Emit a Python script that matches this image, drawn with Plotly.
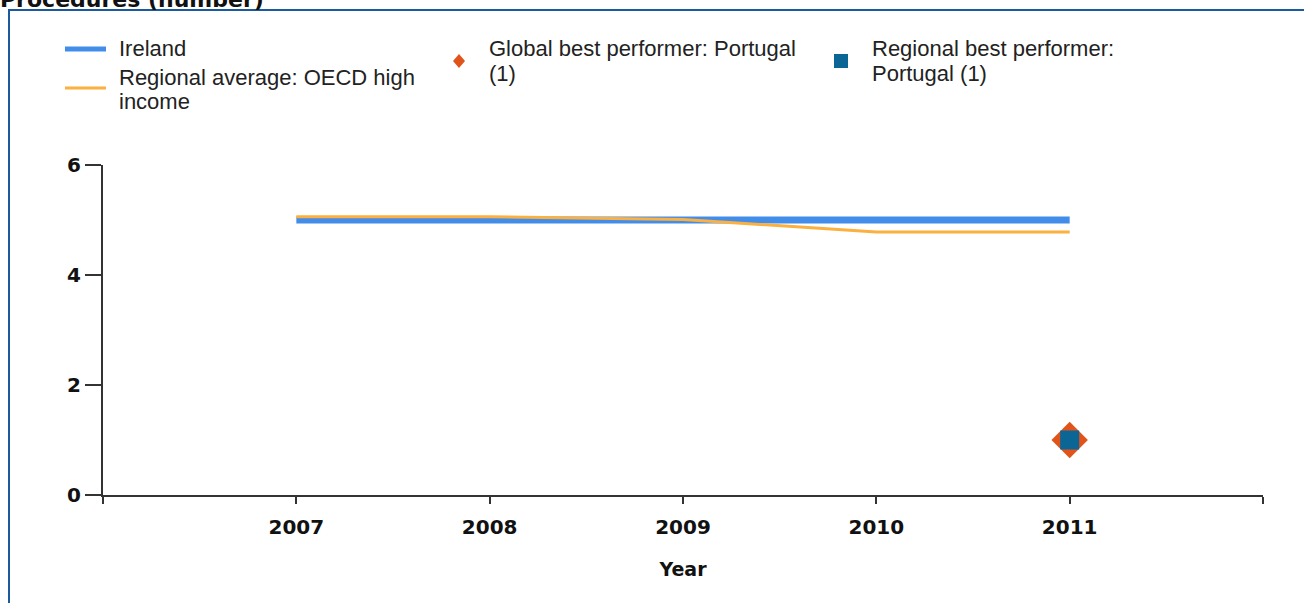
import plotly.graph_objects as go

# ---- data ----
years = [2007, 2008, 2009, 2010, 2011]
ireland = [5, 5, 5, 5, 5]
regional_avg = [5.06, 5.06, 5.01, 4.78, 4.78]
global_best_year = [2011]
global_best = [1]
regional_best_year = [2011]
regional_best = [1]

x_tickvals = [2006, 2007, 2008, 2009, 2010, 2011, 2012]
x_ticktext = ["", "2007", "2008", "2009", "2010", "2011", ""]
y_tickvals = [0, 2, 4, 6]

names = {
    "ireland": "Ireland",
    "regional": "Regional average: OECD high income",
    "global": "Global best performer: Portugal (1)",
    "regbest": "Regional best performer: Portugal (1)",
}

W, H = 1304, 603
L, R, T, B = 103, 41, 165, 108
PW, PH = W - L - R, H - T - B

def px(x):
    return (x - L) / PW

def py(y):
    return (H - B - y) / PH

BLUE = "#438dea"
ORANGE = "#fbb03f"
RED = "#e0541c"
TEAL = "#0b6595"

fig = go.Figure()
fig.add_trace(go.Scatter(x=years, y=ireland, mode="lines", name=names["ireland"],
                         line=dict(color=BLUE, width=7)))
fig.add_trace(go.Scatter(x=years, y=regional_avg, mode="lines", name=names["regional"],
                         line=dict(color=ORANGE, width=3)))
fig.add_trace(go.Scatter(x=global_best_year, y=global_best, mode="markers", name=names["global"],
                         marker=dict(symbol="diamond", size=28, color=RED)))
fig.add_trace(go.Scatter(x=regional_best_year, y=regional_best, mode="markers", name=names["regbest"],
                         marker=dict(symbol="square", size=19, color=TEAL)))

shapes = []
annotations = []

# outer frame
shapes.append(dict(type="rect", xref="paper", yref="paper",
                   x0=px(9), x1=px(1320), y0=py(620), y1=py(10),
                   line=dict(color="#1c5aa0", width=2), layer="below"))

# legend symbols
shapes.append(dict(type="line", xref="paper", yref="paper",
                   x0=px(65), x1=px(106), y0=py(49), y1=py(49),
                   line=dict(color=BLUE, width=5)))
shapes.append(dict(type="line", xref="paper", yref="paper",
                   x0=px(65), x1=px(106), y0=py(88), y1=py(88),
                   line=dict(color=ORANGE, width=3)))
# diamond
cx, cy = 459, 61
shapes.append(dict(type="path", xref="paper", yref="paper",
                   path=f"M {px(cx)},{py(cy-7)} L {px(cx+6)},{py(cy)} L {px(cx)},{py(cy+7)} L {px(cx-6)},{py(cy)} Z",
                   fillcolor=RED, line=dict(width=0)))
# square
sx, sy = 841, 61
shapes.append(dict(type="rect", xref="paper", yref="paper",
                   x0=px(sx-7), x1=px(sx+7), y0=py(sy+7), y1=py(sy-7),
                   fillcolor=TEAL, line=dict(width=0)))

legend_font = dict(family="Liberation Sans, Arial, sans-serif", size=22, color="#222")

def txt(text, x, y):
    annotations.append(dict(text=text, x=px(x), y=py(y), xref="paper", yref="paper",
                            xanchor="left", yanchor="middle", showarrow=False,
                            font=legend_font, borderpad=0))

txt("Ireland", 118, 49)
txt("Regional average: OECD high", 118, 77)
txt("income", 118, 101)
txt("Global best performer: Portugal", 488, 49)
txt("(1)", 488, 73)
txt("Regional best performer:", 871, 49)
txt("Portugal (1)", 871, 73)

# title (cut off at top, as in the reference)
annotations.append(dict(text="<b>Procedures (number)</b>", x=px(-2), y=py(14), xref="paper", yref="paper",
                        xanchor="left", yanchor="bottom", showarrow=False,
                        font=dict(family="DejaVu Sans, sans-serif", size=22, color="#111")))

tick_font = dict(family="DejaVu Sans, sans-serif", size=20, color="#111", weight="bold")

fig.update_layout(
    width=W, height=H,
    margin=dict(l=L, r=R, t=T, b=B),
    paper_bgcolor="white", plot_bgcolor="white",
    showlegend=False,
    shapes=shapes, annotations=annotations,
    xaxis=dict(range=[2006, 2012], tickmode="array", tickvals=x_tickvals, ticktext=x_ticktext,
               showgrid=False, zeroline=False, showline=True, linecolor="#333", linewidth=2,
               ticks="outside", ticklen=7, tickwidth=2, tickcolor="#333",
               tickfont=tick_font, ticklabelstandoff=6,
               title=dict(text="<b>Year</b>", font=dict(family="DejaVu Sans, sans-serif", size=19, color="#111"),
                          standoff=25)),
    yaxis=dict(range=[0, 6], tickmode="array", tickvals=y_tickvals,
               showgrid=False, zeroline=False, showline=True, linecolor="#333", linewidth=2,
               ticks="outside", ticklen=16, tickwidth=2, tickcolor="#333",
               tickfont=tick_font),
)

fig.write_html("out.html", config={"displayModeBar": False},
               post_script="document.body.style.margin='0';document.body.style.overflow='hidden';")
